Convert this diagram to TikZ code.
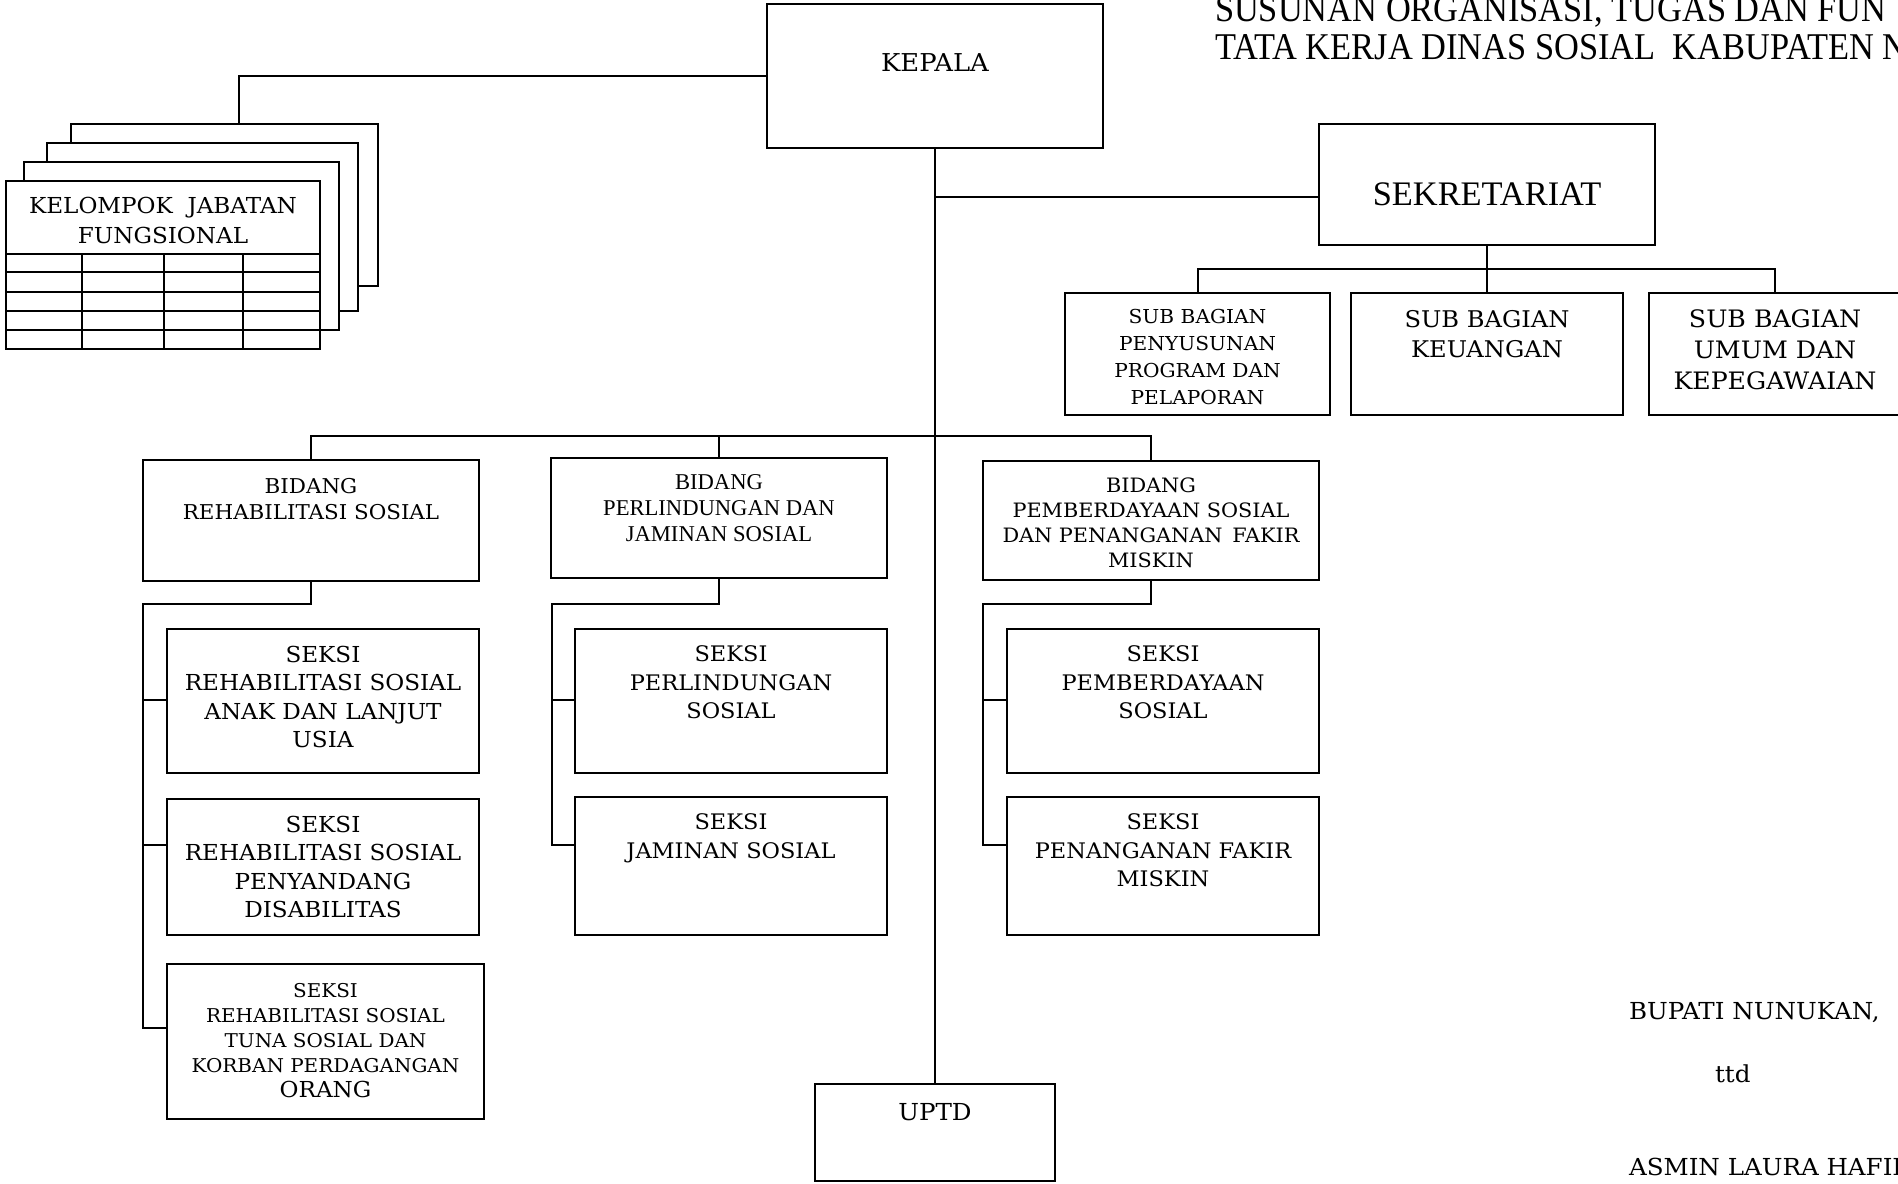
\documentclass[tikz,border=0pt]{standalone}
\usepackage{fontspec}
\setmainfont{DejaVu Serif}[FakeStretch=1.05]
\newfontfamily\tms{Liberation Serif}
\newfontfamily\tmsc{Liberation Serif}[FakeStretch=0.91]
\newcommand\bx[5]{\node[box,anchor=north west,minimum width=#4*0.5pt,minimum height=#5*0.5pt] (#1) at (#2,#3) {};}
\newcommand\fs[2]{\fontsize{#1}{#2}\selectfont}
\begin{document}
\begin{tikzpicture}[x=0.5pt,y=-0.5pt,line width=1pt,
  box/.style={draw,line width=1pt,fill=white,inner sep=0pt,outer sep=0pt},
  txt/.style={inner sep=0pt,align=center,anchor=north},
  lbl/.style={inner sep=0pt,anchor=base west}]
\useasboundingbox (0,0) rectangle (1898,1183);
% kelompok jabatan fungsional stack
\bx{kb3}{71}{124}{307}{162}
\bx{kb2}{47}{143}{311}{168}
\bx{kb1}{24}{162}{315}{168}
\bx{kjf}{6}{181}{314}{168}
\foreach \yy in {254,272,292,311,330} \draw (6,\yy) -- (320,\yy);
\foreach \xx in {82,164,243} \draw (\xx,254) -- (\xx,349);
\node[txt,font=\fs{11}{15}] (kjft) at (163,196) {KELOMPOK\ \ JABATAN\\FUNGSIONAL};
% boxes
\bx{kepala}{767}{4}{336}{144}
\bx{sek}{1319}{124}{336}{121}
\bx{sb1}{1065}{293}{265}{122}
\bx{sb2}{1351}{293}{272}{122}
\bx{sb3}{1649}{293}{252}{122}
\bx{bid1}{143}{460}{336}{121}
\bx{bid2}{551}{458}{336}{120}
\bx{bid3}{983}{461}{336}{119}
\bx{s11}{167}{629}{312}{144}
\bx{s12}{167}{799}{312}{136}
\bx{s13}{167}{964}{317}{155}
\bx{s21}{575}{629}{312}{144}
\bx{s22}{575}{797}{312}{138}
\bx{s31}{1007}{629}{312}{144}
\bx{s32}{1007}{797}{312}{138}
\bx{uptd}{815}{1084}{240}{97}
% connectors
\coordinate (kj) at (239,124);
\draw (kepala.west) -| (kj);
\draw (kepala.south) -- (uptd.north);
\coordinate (jS) at (935,197);
\draw (jS) -- (jS -| sek.west);
\coordinate (sbus) at (1487,269);
\draw (sek.south) -- (sb2.north);
\draw (sb1.north) -- (sb1.north |- sbus) -- (sb3.north |- sbus) -- (sb3.north);
\coordinate (bbus) at (935,436);
\draw (bid1.north) -- (bid1.north |- bbus) -- (bid3.north |- bbus) -- (bid3.north);
\draw (bid2.north) -- (bid2.north |- bbus);
\coordinate (r1) at (143,604);
\coordinate (r2) at (552,604);
\coordinate (r3) at (983,604);
\draw (bid1.south) |- (r1) |- (s13.west |- 0,1028);
\draw (r1 |- 0,700) -- (s11.west |- 0,700);
\draw (r1 |- 0,845) -- (s12.west |- 0,845);
\draw (bid2.south) |- (r2) |- (s22.west |- 0,845);
\draw (r2 |- 0,700) -- (s21.west |- 0,700);
\draw (bid3.south) |- (r3) |- (s32.west |- 0,845);
\draw (r3 |- 0,700) -- (s31.west |- 0,700);
% texts
\node[txt,font=\fs{12.3}{15}] (kepalat) at (935,53) {KEPALA};
\node[lbl,anchor=base,font=\tms\fs{17.2}{20}] (sekt) at (1487,205) {SEKRETARIAT};
\node[txt,font=\fs{9.6}{13.5}] (sb1t) at (1197.5,308) {SUB BAGIAN\\PENYUSUNAN\\PROGRAM DAN\\PELAPORAN};
\node[txt,font=\fs{11.5}{15}] (sb2t) at (1487,309) {SUB BAGIAN\\KEUANGAN};
\node[txt,font=\fs{12}{15.5}] (sb3t) at (1775,309) {SUB BAGIAN\\UMUM DAN\\KEPEGAWAIAN};
\node[txt,font=\fs{10.2}{13}] (bid1t) at (311,477) {BIDANG\\REHABILITASI SOSIAL};
\node[txt,font=\tms\fs{11.3}{13}] (bid2t) at (719,474) {BIDANG\\PERLINDUNGAN DAN\\JAMINAN SOSIAL};
\node[txt,font=\fs{9.9}{12.5}] (bid3t) at (1151,477) {BIDANG\\PEMBERDAYAAN SOSIAL\\DAN PENANGANAN\hspace{0.5em}FAKIR\\MISKIN};
\node[txt,font=\fs{11}{14.25}] (s11t) at (323,645) {SEKSI\\REHABILITASI SOSIAL\\ANAK DAN LANJUT\\USIA};
\node[txt,font=\fs{11}{14.25}] (s12t) at (323,815) {SEKSI\\REHABILITASI SOSIAL\\PENYANDANG\\DISABILITAS};
\node[txt,font=\fs{9.5}{12.5}] (s13t) at (325.5,982) {SEKSI\\REHABILITASI SOSIAL\\TUNA SOSIAL DAN\\KORBAN PERDAGANGAN\\{\fs{11}{12.5}ORANG}};
\node[txt,font=\fs{10.7}{14.25}] (s21t) at (731,645) {SEKSI\\PERLINDUNGAN\\SOSIAL};
\node[txt,font=\fs{10.7}{14.25}] (s22t) at (731,813) {SEKSI\\JAMINAN SOSIAL};
\node[txt,font=\fs{10.7}{14.25}] (s31t) at (1163,645) {SEKSI\\PEMBERDAYAAN\\SOSIAL};
\node[txt,font=\fs{10.7}{14.25}] (s32t) at (1163,813) {SEKSI\\PENANGANAN FAKIR\\MISKIN};
\node[txt,font=\fs{11.7}{14}] (uptdt) at (935,1102) {UPTD};
% title and signature
\node[lbl,font=\tmsc\fs{18.9}{22}] (title1) at (1214,21) {SUSUNAN ORGANISASI, TUGAS DAN FUN};
\node[lbl,font=\tmsc\fs{18.9}{22}] (title2) at (1214,59) {TATA KERJA DINAS SOSIAL\ \ KABUPATEN N};
\node[lbl,font=\fs{11.7}{14}] (bup) at (1628,1019) {BUPATI NUNUKAN,};
\node[lbl,font=\fs{11.7}{14}] (ttd) at (1714,1082) {ttd};
\node[lbl,font=\fs{11.7}{14}] (asmin) at (1628,1175) {ASMIN LAURA HAFID};
\end{tikzpicture}
\end{document}
